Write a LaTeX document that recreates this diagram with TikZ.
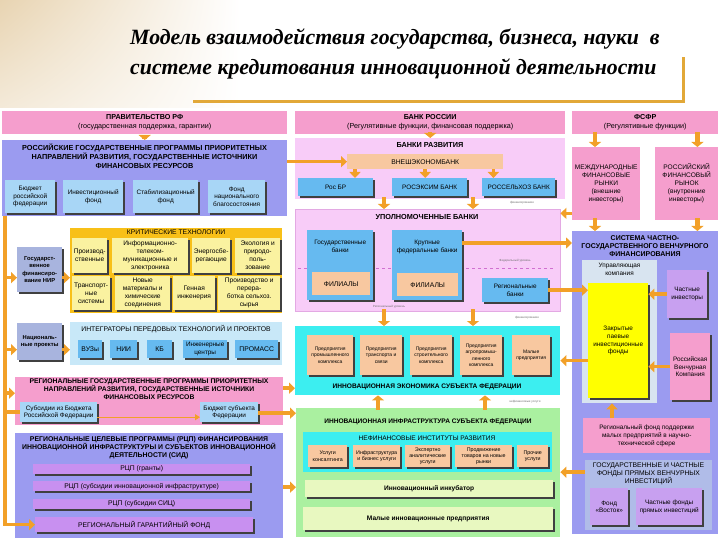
\documentclass[tikz,border=0pt]{standalone}
\usepackage{fontspec}
\setmainfont{Liberation Serif}
\setsansfont{Liberation Sans}
\usetikzlibrary{arrows.meta,shadows,shadings}
\definecolor{orng}{RGB}{242,160,40}
\definecolor{gold}{RGB}{226,168,56}
\definecolor{pinkH}{RGB}{245,158,205}
\definecolor{lav}{RGB}{155,155,240}
\definecolor{lblue}{RGB}{168,214,246}
\definecolor{lpink}{RGB}{248,204,248}
\definecolor{peach}{RGB}{248,200,160}
\definecolor{mblue}{RGB}{102,186,240}
\definecolor{goldbox}{RGB}{248,192,24}
\definecolor{lyel}{RGB}{250,242,160}
\definecolor{lcyan}{RGB}{200,232,248}
\definecolor{gblue}{RGB}{168,180,222}
\definecolor{cyanb}{RGB}{60,238,240}
\definecolor{lgreen}{RGB}{170,240,160}
\definecolor{pgreen}{RGB}{232,248,192}
\definecolor{yel}{RGB}{255,255,0}
\definecolor{upan}{RGB}{216,228,240}
\definecolor{purp}{RGB}{200,160,240}
\definecolor{gpan}{RGB}{176,188,232}
\definecolor{rpurp}{RGB}{200,144,240}
\definecolor{beige}{RGB}{232,212,178}
\definecolor{dpink}{RGB}{208,112,208}
\newcommand\B[6]{\node[#1, anchor=north west, minimum width=#4pt, minimum height=#5pt] (#2) at (#3) {#6};}
\begin{document}
\begin{tikzpicture}[x=1pt,y=-1pt,
  bx/.style={inner sep=0pt, align=center, text=black},
  fa/.style={font=\sffamily\fontsize{7.2}{9}\selectfont},
  hd/.style={font=\sffamily\bfseries\fontsize{7.3}{8.6}\selectfont},
  hs/.style={font=\sffamily\bfseries\fontsize{6.6}{8}\selectfont},
  fb/.style={font=\sffamily\fontsize{6.6}{8}\selectfont},
  fc/.style={font=\sffamily\fontsize{6.4}{7.7}\selectfont},
  fe/.style={font=\sffamily\fontsize{6.8}{8}\selectfont},
  fd/.style={font=\sffamily\fontsize{5}{6.4}\selectfont},
  fn/.style={font=\sffamily\fontsize{5.3}{6.4}\selectfont},
  ft/.style={font=\sffamily\fontsize{3}{3.5}\selectfont, text=black!55, inner sep=0pt},
  ttl/.style={font=\rmfamily\bfseries\itshape\fontsize{21.8}{26}\selectfont, inner sep=0pt},
  shd/.style={drop shadow={shadow xshift=1.5pt,shadow yshift=-1.5pt,fill=black!75,opacity=1}},
  barrow/.style={draw=orng, line width=3.5pt, -{Triangle[width=11pt,length=6pt]}},
  varrow/.style={draw=orng, line width=4.5pt, -{Triangle[width=12pt,length=5pt]}},
  sarrow/.style={draw=orng, line width=1pt, -{Triangle[width=6pt,length=5pt]}},
  oline/.style={draw=orng, line width=3.5pt}]
\useasboundingbox (0,0) rectangle (720,540);
\fill[white] (0,0) rectangle (720,540);
\shade[upper left=beige, upper right=white, lower left=beige!50, lower right=white] (0,0) rectangle (240,108);

% title
\node[ttl, anchor=base west] (t1) at (130,45) {Модель взаимодействия государства, бизнеса, науки\ \ в};
\node[ttl, anchor=base west] (t2) at (130,75) {системе кредитования инновационной деятельности};
\coordinate (u1) at (193,102); \coordinate (u2) at (683,102); \coordinate (u3) at (683,57);
\draw[gold, line width=3pt] (u1) -- (u2) -- (u3);

% top row
\B{bx,fa,fill=pinkH}{gov}{2,111}{285}{23}{\textbf{ПРАВИТЕЛЬСТВО РФ}\\(государственная поддержка, гарантии)}
\B{bx,fa,fill=pinkH}{cbr}{295,111}{270}{23}{\textbf{БАНК РОССИИ}\\(Регулятивные функции, финансовая поддержка)}
\B{bx,fa,fill=pinkH}{fsfr}{572,111}{146}{23}{\textbf{ФСФР}\\(Регулятивные функции)}

% Russian programs
\B{bx,fill=lav}{rus}{2,140}{285}{76}{}
\node[bx,hd,anchor=north] (rusT) at (144.5,144) {РОССИЙСКИЕ ГОСУДАРСТВЕННЫЕ ПРОГРАММЫ ПРИОРИТЕТНЫХ\\НАПРАВЛЕНИЙ РАЗВИТИЯ, ГОСУДАРСТВЕННЫЕ ИСТОЧНИКИ\\ФИНАНСОВЫХ РЕСУРСОВ};
\B{bx,fc,fill=lblue,shd}{rb1}{5,180}{50}{33}{Бюджет\\российской\\федерации}
\B{bx,fc,fill=lblue,shd}{rb2}{63,180}{60}{33}{Инвестиционный\\фонд}
\B{bx,fc,fill=lblue,shd}{rb3}{133,180}{65}{33}{Стабилизационный\\фонд}
\B{bx,fc,fill=lblue,shd}{rb4}{208,180}{57}{33}{Фонд\\национального\\благосостояния}

% development banks
\B{bx,fill=lpink}{bdev}{295,138}{270}{61}{}
\node[bx,hd,anchor=north] (bdevT) at (430,142) {БАНКИ РАЗВИТИЯ};
\B{bx,fe,fill=peach}{veb}{347,154}{156}{15}{ВНЕШЭКОНОМБАНК}
\B{bx,fc,fill=mblue,shd}{rosbr}{298,178}{75}{18}{Рос БР}
\B{bx,fc,fill=mblue,shd}{rosex}{392,178}{75}{18}{РОСЭКСИМ БАНК}
\B{bx,fc,fill=mblue,shd}{rosse}{482,178}{73}{18}{РОССЕЛЬХОЗ БАНК}
\draw[varrow] ([yshift=2pt]cbr.south) -- (bdev.north);
\draw[barrow] ([xshift=8pt]veb.south west) -- ([xshift=8pt]veb.south west |- rosbr.north);
\draw[barrow] (veb.south) -- (veb.south |- rosex.north);
\draw[barrow] ([xshift=-10pt]veb.south east) -- ([xshift=-10pt]veb.south east |- rosse.north);
\draw[barrow] (rus.east |- veb.west) -- (veb.west);
\draw[varrow] ([yshift=-5pt]gov.south) -- (rus.north);

% authorised banks
\B{bx,fill=lpink,draw=dpink!60,line width=0.4pt}{upb}{295,209}{265}{102}{}
\node[bx,hd,anchor=north] (upbT) at (427,214) {УПОЛНОМОЧЕННЫЕ БАНКИ};
\coordinate (d1) at (298,268); \coordinate (d2) at (555,268);
\draw[dpink, dashed, line width=0.5pt] (d1) -- (d2);
\B{bx,fill=mblue,shd}{gb}{307,230}{66}{70}{}
\node[bx,fc,anchor=north] (gbT) at (gb.north) [yshift=-10pt] {Государственные\\банки};
\B{bx,fe,fill=peach}{fil1}{312,272}{58}{23}{ФИЛИАЛЫ}
\B{bx,fill=mblue,shd}{kfb}{392,230}{70}{70}{}
\node[bx,fc,anchor=north] (kfbT) at (kfb.north) [yshift=-10pt] {Крупные\\федеральные банки};
\B{bx,fe,fill=peach}{fil2}{397,273}{61}{23}{ФИЛИАЛЫ}
\B{bx,fc,fill=mblue,shd}{rb}{482,278}{66}{24}{Региональные\\банки}
\node[ft] (tn1) at (515,261) {Федеральный уровень};
\node[ft] (tn2) at (389,307) {Региональный уровень};
\node[ft] (tn3) at (522,203) {финансирование};
\draw[varrow] ([xshift=89pt,yshift=2pt]bdev.south west) -- ([xshift=89pt]upb.north west);
\draw[varrow] ([xshift=178pt,yshift=2pt]bdev.south west) -- ([xshift=178pt]upb.north west);

% innovation economy
\B{bx,fill=cyanb}{ie}{295,326}{265}{69}{}
\B{bx,fd,fill=peach,shd}{p1}{307,335}{46}{40}{Предприятия\\промышленного\\комплекса}
\B{bx,fd,fill=peach,shd}{p2}{360,335}{42}{40}{Предприятия\\транспорта и\\связи}
\B{bx,fd,fill=peach,shd}{p3}{410,335}{42}{40}{Предприятия\\строительного\\комплекса}
\B{bx,fd,fill=peach,shd}{p4}{460,335}{42}{40}{Предприятия\\агропромыш-\\ленного\\комплекса}
\B{bx,fd,fill=peach,shd}{p5}{512,335}{38}{40}{Малые\\предприятия}
\node[bx,hs,anchor=center] (ieT) at (427,387) {ИННОВАЦИОННАЯ ЭКОНОМИКА СУБЪЕКТА ФЕДЕРАЦИИ};
\node[ft] (tn4) at (527,318) {финансирование};
\draw[varrow] ([xshift=89pt,yshift=2pt]upb.south west) -- ([xshift=89pt]ie.north west);
\draw[varrow] ([xshift=178pt,yshift=2pt]upb.south west) -- ([xshift=178pt]ie.north west);

% innovation infrastructure
\B{bx,fill=lgreen}{gr}{296,408}{264}{129}{}
\node[bx,hs,anchor=center] (grT) at (428,422) {ИННОВАЦИОННАЯ ИНФРАСТРУКТУРА СУБЪЕКТА ФЕДЕРАЦИИ};
\B{bx,fill=cyanb}{nf}{303,432}{249}{40}{}
\node[bx,fb,anchor=center] (nfT) at (427,438) {НЕФИНАНСОВЫЕ ИНСТИТУТЫ РАЗВИТИЯ};
\B{bx,fn,fill=peach,shd}{n1}{308,445}{39}{22}{Услуги\\консалтинга}
\B{bx,fn,fill=peach,shd}{n2}{353,445}{47}{22}{Инфраструктура\\и бизнес услуги}
\B{bx,fn,fill=peach,shd}{n3}{405,445}{45}{22}{Экспертно\\аналитические\\услуги}
\B{bx,fn,fill=peach,shd}{n4}{455,445}{57}{22}{Продвижение\\товаров на новые\\рынки}
\B{bx,fn,fill=peach,shd}{n5}{517,445}{31}{22}{Прочие\\услуги}
\B{bx,hs,fill=pgreen,shd}{inc}{305,480}{248}{17}{Инновационный инкубатор}
\B{bx,hs,fill=pgreen,shd}{mip}{303,507}{250}{23}{Малые инновационные предприятия}
\node[ft] (tn5) at (525,402) {нефинансовые услуги};
\draw[varrow] ([xshift=82pt,yshift=-2pt]gr.north west) -- ([xshift=82pt]gr.north west |- ie.south);
\draw[varrow] ([xshift=189pt,yshift=-2pt]gr.north west) -- ([xshift=189pt]gr.north west |- ie.south);

% right column
\B{bx,fb,fill=pinkH}{mfr}{572,147}{68}{73}{МЕЖДУНАРОДНЫЕ\\ФИНАНСОВЫЕ\\РЫНКИ\\(внешние\\инвесторы)}
\B{bx,fb,fill=pinkH}{rfr}{655,147}{63}{73}{РОССИЙСКИЙ\\ФИНАНСОВЫЙ\\РЫНОК\\(внутренние\\инвесторы)}
\draw[varrow] ([xshift=23pt,yshift=2pt]fsfr.south west) -- ([xshift=23pt]mfr.north west);
\draw[varrow] ([xshift=-21pt,yshift=2pt]fsfr.south east) -- ([xshift=-21pt]fsfr.south east |- rfr.north);
\B{bx,fill=lav}{vsys}{572,231}{146}{303}{}
\draw[varrow] ([xshift=23pt,yshift=2pt]mfr.south west) -- ([xshift=23pt]vsys.north west);
\draw[varrow] ([xshift=-21pt,yshift=2pt]rfr.south east) -- ([xshift=-21pt]vsys.north east);
\node[bx,anchor=north,font=\sffamily\bfseries\fontsize{7}{8.4}\selectfont] (vsysT) at (645,235) {СИСТЕМА ЧАСТНО-\\ГОСУДАРСТВЕННОГО ВЕНЧУРНОГО\\ФИНАНСИРОВАНИЯ};
\B{bx,fill=upan}{upr}{582,260}{75}{143}{}
\node[bx,fc,anchor=north] (uprT) at (619.5,263) {Управляющая\\компания};
\B{bx,fc,fill=yel,shd}{zpif}{588,283}{60}{115}{Закрытые\\паевые\\инвестиционные\\фонды}
\B{bx,fc,fill=purp,shd}{chi}{667,270}{40}{48}{Частные\\инвесторы}
\B{bx,fc,fill=pinkH,shd}{rvk}{670,333}{40}{67}{Российская\\Венчурная\\Компания}
\B{bx,fc,fill=pinkH}{rf}{583,418}{127}{35}{Региональный фонд поддержки\\малых предприятий в научно-\\технической сфере}
\B{bx,fill=gpan}{gf}{585,460}{127}{70}{}
\node[bx,fe,anchor=north] (gfT) at (648.5,463) {ГОСУДАРСТВЕННЫЕ И ЧАСТНЫЕ\\ФОНДЫ ПРЯМЫХ ВЕНЧУРНЫХ\\ИНВЕСТИЦИЙ};
\B{bx,fc,fill=purp,shd}{vost}{590,488}{38}{37}{Фонд\\«Восток»}
\B{bx,fc,fill=purp,shd}{chf}{636,488}{66}{37}{Частные фонды\\прямых инвестиций}
\draw[barrow] (chi.west) -- (chi.west -| zpif.east);
\draw[barrow] (rvk.west) -- (rvk.west -| zpif.east);
\draw[barrow] ([xshift=29pt]rf.north west) -- ([xshift=29pt]rf.north west |- upr.south);
\coordinate (a1) at ([yshift=-13pt]kfb.north east);
\draw[barrow] (a1) -- (a1 -| vsys.west);
\draw[barrow] (rb.east) -- (rb.east -| zpif.west);
\coordinate (a2) at ([yshift=7pt]mfr.south west);
\draw[barrow] (a2) -- (a2 -| upb.east);
\coordinate (a3) at ([yshift=-20pt]zpif.west);
\draw[barrow] (a3) -- (a3 -| ie.east);
\coordinate (a4) at ([yshift=23pt]gf.west);
\draw[barrow] (a4) -- (a4 -| gr.east);
\coordinate (a5) at ([yshift=-22pt]vsys.south west);
\draw[barrow] ([xshift=12pt]a5) -- (a5 -| mip.east);

% left column
\B{bx,fill=gblue,shd,font=\sffamily\bfseries\fontsize{5.8}{7.4}\selectfont}{gnir}{17,247}{45}{45}{Государст-\\венное\\финансиро-\\вание НИР}
\B{bx,fill=goldbox}{kt}{70,228}{212}{85}{}
\node[bx,fe,anchor=north] (ktT) at (176,229.5) {КРИТИЧЕСКИЕ ТЕХНОЛОГИИ};
\B{bx,fb,fill=lyel,shd}{k1}{72,238}{35}{35}{Производ-\\ственные}
\B{bx,fb,fill=lyel,shd}{k2}{112,238}{76}{35}{Информационно-\\телеком-\\муникационные и\\электроника}
\B{bx,fb,fill=lyel,shd}{k3}{192,238}{38}{35}{Энергосбе-\\регающие}
\B{bx,fb,fill=lyel,shd}{k4}{235,238}{45}{35}{Экология и\\природо-\\поль-\\зование}
\B{bx,fb,fill=lyel,shd}{k5}{72,276}{38}{34}{Транспорт-\\ные\\системы}
\B{bx,fb,fill=lyel,shd}{k6}{115,276}{55}{34}{Новые\\материалы и\\химические\\соединения}
\B{bx,fb,fill=lyel,shd}{k7}{173,276}{42}{34}{Генная\\инженерия}
\B{bx,fb,fill=lyel,shd}{k8}{218,276}{62}{34}{Производство и\\перера-\\ботка сельхоз.\\сырья}
\B{bx,fill=gblue,shd,font=\sffamily\bfseries\fontsize{5.8}{7.4}\selectfont}{np}{17,323}{45}{37}{Националь-\\ные проекты}
\B{bx,fill=lcyan}{integ}{70,322}{212}{43}{}
\node[bx,fe,anchor=north] (integT) at (176,325) {ИНТЕГРАТОРЫ ПЕРЕДОВЫХ ТЕХНОЛОГИЙ И ПРОЕКТОВ};
\B{bx,fe,fill=mblue,shd}{i1}{78,340}{24}{18}{ВУЗы}
\B{bx,fe,fill=mblue,shd}{i2}{110,340}{27}{18}{НИИ}
\B{bx,fe,fill=mblue,shd}{i3}{147,340}{25}{18}{КБ}
\B{bx,fc,fill=mblue,shd}{i4}{183,340}{44}{18}{Инженерные\\центры}
\B{bx,fe,fill=mblue,shd}{i5}{235,340}{43}{18}{ПРОМАСС}
\coordinate (g1) at ([yshift=-8pt]gnir.west);
\draw[barrow] (g1 -| gnir.east) -- (g1 -| kt.west);
\coordinate (g2) at ([yshift=-8pt]np.west);
\draw[barrow] (g2 -| np.east) -- (g2 -| integ.west);

\B{bx,fill=pinkH}{reg}{15,377}{268}{48}{}
\node[bx,anchor=north,font=\sffamily\bfseries\fontsize{6.8}{7.6}\selectfont] (regT) at (149,379) {РЕГИОНАЛЬНЫЕ ГОСУДАРСТВЕННЫЕ ПРОГРАММЫ ПРИОРИТЕТНЫХ\\НАПРАВЛЕНИЙ РАЗВИТИЯ, ГОСУДАРСТВЕННЫЕ ИСТОЧНИКИ\\ФИНАНСОВЫХ РЕСУРСОВ};
\B{bx,fc,fill=lblue,shd}{sub}{20,402}{77}{20}{Субсидии из Бюджета\\Российской Федерации}
\B{bx,fc,fill=lblue,shd}{bsf}{200,402}{58}{20}{Бюджет субъекта\\Федерации}
\coordinate (s1) at ([yshift=-5pt]sub.east);
\draw[sarrow] (s1) -- (s1 -| bsf.west);
\B{bx,fill=lav}{rcp}{15,433}{268}{105}{}
\node[bx,anchor=north,font=\sffamily\bfseries\fontsize{6.9}{8}\selectfont] (rcpT) at (149,436) {РЕГИОНАЛЬНЫЕ ЦЕЛЕВЫЕ ПРОГРАММЫ (РЦП) ФИНАНСИРОВАНИЯ\\ИННОВАЦИОННОЙ ИНФРАСТРУКТУРЫ И СУБЪЕКТОВ ИННОВАЦИОННОЙ\\ДЕЯТЕЛЬНОСТИ (СИД)};
\B{bx,fe,fill=rpurp,shd}{r1}{33,464}{217}{10}{РЦП (гранты)}
\B{bx,fe,fill=rpurp,shd}{r2}{33,481}{217}{10}{РЦП (субсидии инновационной инфраструктуре)}
\B{bx,fe,fill=rpurp,shd}{r3}{33,499}{217}{10}{РЦП (субсидии СИЦ)}
\B{bx,fe,fill=rpurp,shd}{r4}{35,517}{218}{15}{РЕГИОНАЛЬНЫЙ ГАРАНТИЙНЫЙ ФОНД}

% left feeder line
\coordinate (L0) at ([xshift=3pt]rus.south west);
\draw[barrow] (L0) |- (r4.west);
\draw[barrow] (L0 |- g1) -- (g1);
\draw[barrow] (L0 |- g2) -- (g2);
\coordinate (g3) at ([yshift=8pt]reg.west);
\draw[barrow] (L0 |- g3) -- (g3);
\draw[oline] (L0 |- sub.west) -- (sub.west);
% right feeders from regional boxes
\coordinate (h1) at ([yshift=13pt]reg.east);
\draw[barrow] (h1) -- (h1 -| ie.west);
\coordinate (h2) at ([yshift=-1pt]bsf.east);
\draw[barrow] (h2) -- (h2 -| gr.west);
\coordinate (h3) at ([yshift=-1.5pt]rcp.east);
\draw[barrow] (h3) -- (h3 -| gr.west);
\end{tikzpicture}
\end{document}
